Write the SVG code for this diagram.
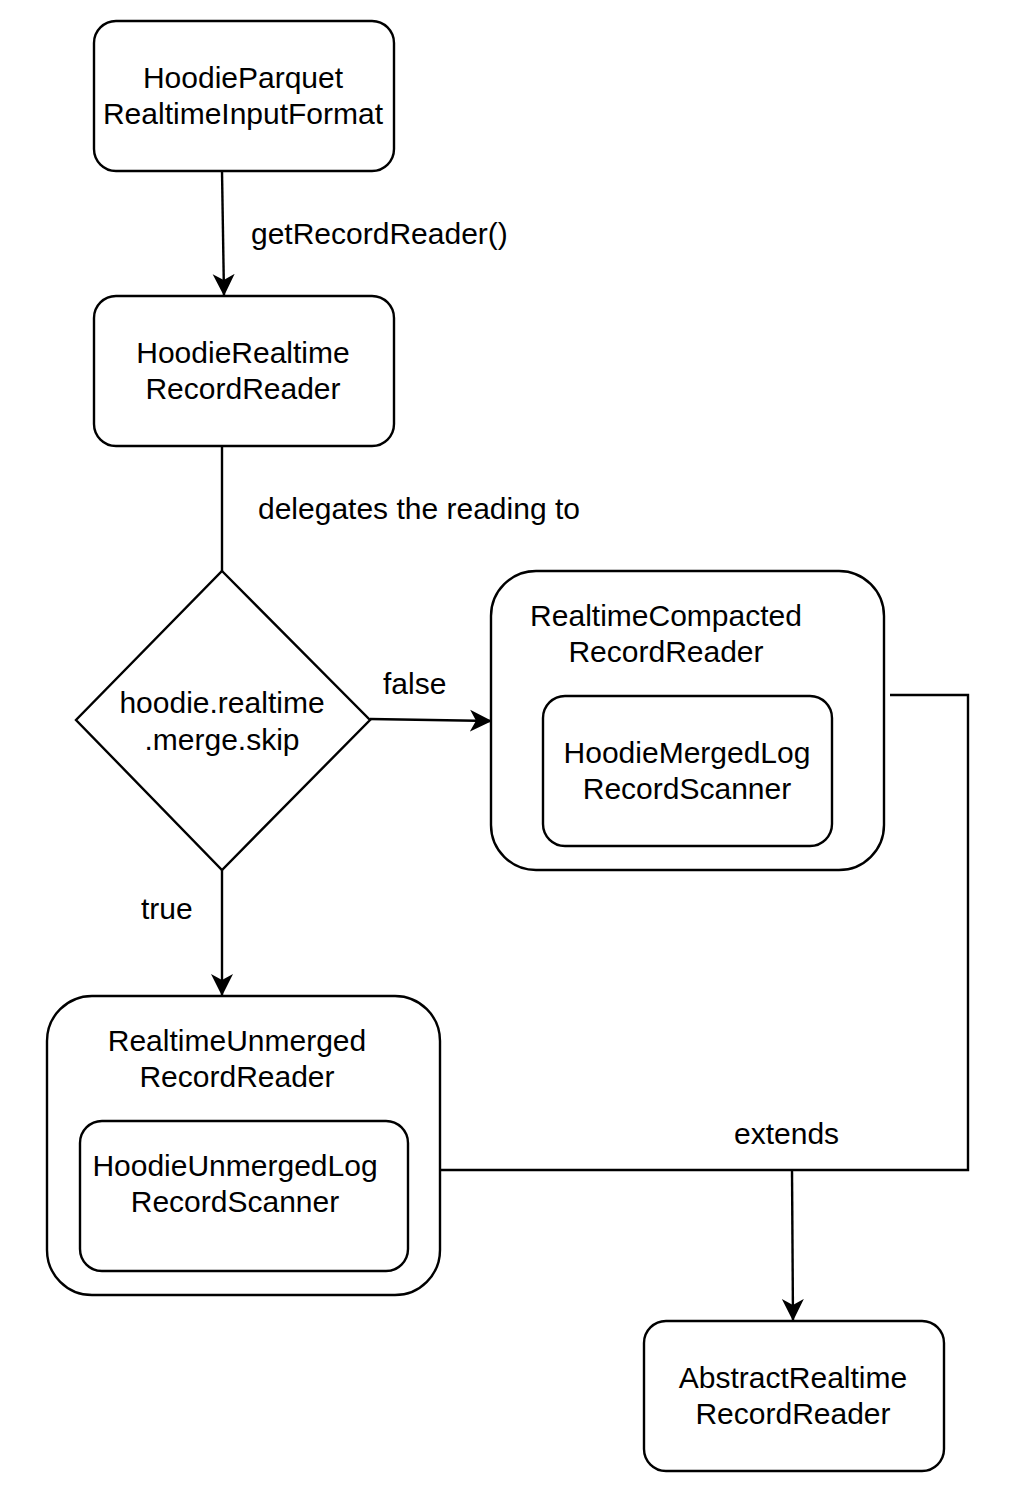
<svg xmlns="http://www.w3.org/2000/svg" width="1016" height="1512" viewBox="0 0 1016 1512">
<style>
.n{fill:#fff;stroke:#000;stroke-width:2.4}
.t{font-family:"Liberation Sans",Arial,sans-serif;font-size:30px;fill:#000;text-anchor:middle}
.l{font-family:"Liberation Sans",Arial,sans-serif;font-size:30px;fill:#000}
.c{fill:none;stroke:#000;stroke-width:2.4}
</style>
<defs>
<marker id="ar" markerUnits="userSpaceOnUse" markerWidth="24" markerHeight="24" viewBox="0 0 24 24" refX="22" refY="12" orient="auto">
<path d="M0,1 L22,12 L0,23 L6,12 Z" fill="#000"/>
</marker>
</defs>
<rect width="1016" height="1512" fill="#fff"/>
<g id="connectors">
<path class="c" d="M222,171 L224,296" marker-end="url(#ar)"/>
<path class="c" d="M222,446 L222,571"/>
<path class="c" d="M370,719 L492,721" marker-end="url(#ar)"/>
<path class="c" d="M222,870 L222,996" marker-end="url(#ar)"/>
<path class="c" d="M890,695 L968,695 L968,1170 L440,1170"/>
<path class="c" d="M792,1170 L793,1321" marker-end="url(#ar)"/>
<text class="l" x="251" y="244">getRecordReader()</text>
<text class="l" x="258" y="519">delegates the reading to</text>
<text class="l" x="383" y="694">false</text>
<text class="l" x="141" y="919">true</text>
<text class="l" x="734" y="1144">extends</text>
</g>
<g id="hoodieParquetRealtimeInputFormat">
<rect class="n" x="94" y="21" width="300" height="150" rx="22"/>
<text class="t" x="243" y="88">HoodieParquet</text>
<text class="t" x="243" y="124">RealtimeInputFormat</text>
</g>
<g id="hoodieRealtimeRecordReader">
<rect class="n" x="94" y="296" width="300" height="150" rx="22"/>
<text class="t" x="243" y="363">HoodieRealtime</text>
<text class="t" x="243" y="399">RecordReader</text>
</g>
<g id="mergeSkip">
<path class="n" d="M222,571 L370,720 L222,870 L76,720 Z"/>
<text class="t" x="222" y="713">hoodie.realtime</text>
<text class="t" x="222" y="750">.merge.skip</text>
</g>
<g id="realtimeCompactedRecordReader">
<rect class="n" x="491" y="571" width="393" height="299" rx="45"/>
<text class="t" x="666" y="626">RealtimeCompacted</text>
<text class="t" x="666" y="662">RecordReader</text>
</g>
<g id="hoodieMergedLogRecordScanner">
<rect class="n" x="543" y="696" width="289" height="150" rx="22"/>
<text class="t" x="687" y="763">HoodieMergedLog</text>
<text class="t" x="687" y="799">RecordScanner</text>
</g>
<g id="realtimeUnmergedRecordReader">
<rect class="n" x="47" y="996" width="393" height="299" rx="45"/>
<text class="t" x="237" y="1051">RealtimeUnmerged</text>
<text class="t" x="237" y="1087">RecordReader</text>
</g>
<g id="hoodieUnmergedLogRecordScanner">
<rect class="n" x="80" y="1121" width="328" height="150" rx="22"/>
<text class="t" x="235" y="1176">HoodieUnmergedLog</text>
<text class="t" x="235" y="1212">RecordScanner</text>
</g>
<g id="abstractRealtimeRecordReader">
<rect class="n" x="644" y="1321" width="300" height="150" rx="22"/>
<text class="t" x="793" y="1388">AbstractRealtime</text>
<text class="t" x="793" y="1424">RecordReader</text>
</g>
</svg>
